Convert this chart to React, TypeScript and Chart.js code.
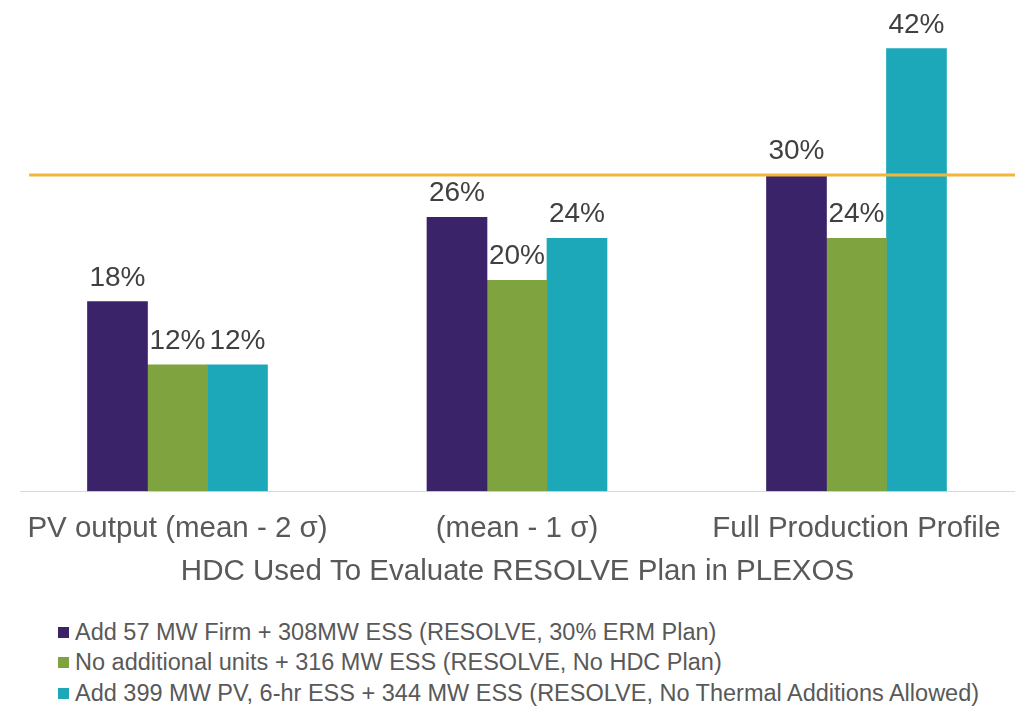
import React, { useEffect, useRef } from "react";
import { Chart, registerables } from "chart.js";

Chart.register(...registerables);

const categories = ["PV output (mean - 2 σ)", "(mean - 1 σ)", "Full Production Profile"];
const seriesNames = [
  "Add 57 MW Firm + 308MW ESS (RESOLVE, 30% ERM Plan)",
  "No additional units + 316 MW ESS (RESOLVE, No HDC Plan)",
  "Add 399 MW PV, 6-hr ESS + 344 MW ESS (RESOLVE, No Thermal Additions Allowed)",
];
const firmValues = [18, 26, 30];
const noUnitsValues = [12, 20, 24];
const pvValues = [12, 24, 42];
const thresholdValue = 30;
const thresholdSpan = [-0.437, 2.467];
const xAxisTitle = "HDC Used To Evaluate RESOLVE Plan in PLEXOS";

const colors = ["#3A2369", "#7FA43F", "#1CA8B8"];
const lineColor = "#F3B53A";
const FONT = "'Liberation Sans', Arial, sans-serif";

export default function App() {
  const ref = useRef<HTMLCanvasElement | null>(null);

  useEffect(() => {
    document.body.style.margin = "0";
    const ctx = ref.current!.getContext("2d")!;
    const series = [firmValues, noUnitsValues, pvValues];

    const labelPlugin = {
      id: "barLabels",
      afterDatasetsDraw(chart: any) {
        const c = chart.ctx;
        c.save();
        c.font = `28px ${FONT}`;
        c.fillStyle = "#404040";
        c.textAlign = "center";
        c.textBaseline = "alphabetic";
        chart.data.datasets.forEach((ds: any, di: number) => {
          if (ds.type !== "bar") return;
          const meta = chart.getDatasetMeta(di);
          meta.data.forEach((el: any, i: number) => {
            c.fillText(`${ds.data[i].y}%`, el.x, el.y - 16);
          });
        });
        c.restore();
      },
    };

    const chart = new Chart(ctx, {
      type: "bar",
      data: {
        datasets: [
          ...series.map((vals, si) => ({
            type: "bar" as const,
            label: seriesNames[si],
            data: vals.map((v, i) => ({ x: i, y: v })),
            backgroundColor: colors[si],
            barThickness: 60,
            order: 1,
          })),
          {
            type: "line" as const,
            label: "threshold",
            data: thresholdSpan.map((x) => ({ x, y: thresholdValue })),
            borderColor: lineColor,
            borderWidth: 3,
            pointRadius: 0,
            order: 0,
          },
        ],
      } as any,
      options: {
        animation: false,
        responsive: false,
        layout: { autoPadding: false, padding: { left: 20, right: 0, top: 17, bottom: 6 } },
        plugins: { legend: { display: false }, tooltip: { enabled: false } },
        scales: {
          x: {
            type: "linear",
            offset: false,
            min: -0.4639,
            max: 2.4669,
            afterBuildTicks: (scale: any) => {
              scale.ticks = categories.map((_, i) => ({ value: i }));
            },
            afterFit: (scale: any) => {
              scale.paddingLeft = 0;
              scale.paddingRight = 0;
            },
            ticks: {
              callback: (v: any) => categories[v as number] ?? "",
              font: { family: FONT, size: 29.5 },
              color: "#595959",
              padding: 20,
              maxRotation: 0,
              autoSkip: false,
            },
            grid: { display: false, drawTicks: false },
            border: { display: true, color: "#D9D9D9", width: 1 },
            title: {
              display: true,
              text: xAxisTitle,
              font: { family: FONT, size: 29.5 },
              color: "#595959",
              padding: { top: -12, bottom: 4 },
            },
          },
          y: {
            display: false,
            min: 0,
            max: 45,
          },
        },
      } as any,
      plugins: [labelPlugin],
    });
    return () => chart.destroy();
  }, []);

  return (
    <div style={{ width: 1015, fontFamily: FONT }}>
      <canvas ref={ref} width={1015} height={600} style={{ display: "block" }} />
      <div style={{ marginTop: 17, paddingLeft: 58 }}>
        {seriesNames.map((name, i) => (
          <div
            key={i}
            style={{
              display: "flex",
              alignItems: "center",
              height: 30.5,
              fontSize: 23.5,
              color: "#595959",
              whiteSpace: "nowrap",
            }}
          >
            <span
              style={{
                display: "inline-block",
                width: 11,
                height: 11,
                background: colors[i],
                marginRight: 6,
              }}
            />
            {name}
          </div>
        ))}
      </div>
    </div>
  );
}
